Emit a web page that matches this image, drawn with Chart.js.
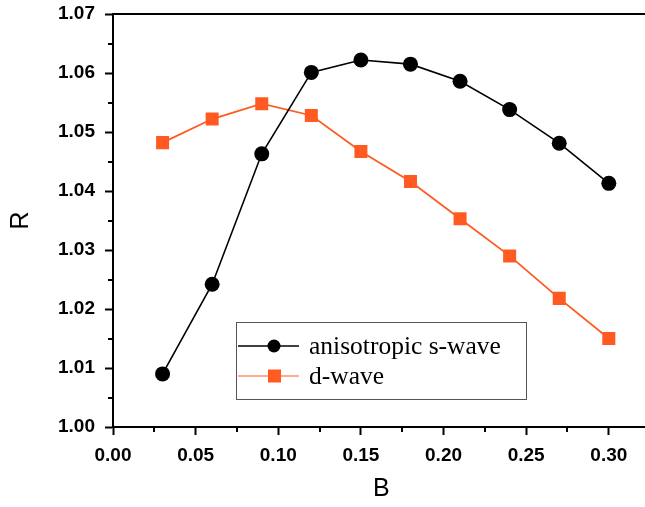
<!DOCTYPE html>
<html>
<head>
<meta charset="utf-8">
<script src="https://cdn.jsdelivr.net/npm/chart.js@4/dist/chart.umd.min.js"></script>
<style>
  html, body { margin: 0; padding: 0; background: #fff; overflow: hidden; }
  #wrap { width: 659px; height: 507px; }
</style>
</head>
<body>
<div id="wrap"><canvas id="chart"></canvas></div>
<script>
// data
const bValues = [0.03, 0.06, 0.09, 0.12, 0.15, 0.18, 0.21, 0.24, 0.27, 0.30];
const sWave = [1.0090, 1.0242, 1.0463, 1.0601, 1.0622, 1.0615, 1.0586, 1.0538, 1.0481, 1.0413];
const dWave = [1.0482, 1.0522, 1.0548, 1.0528, 1.0467, 1.0416, 1.0353, 1.0290, 1.0218, 1.0150];
const xTicks = [0.00, 0.05, 0.10, 0.15, 0.20, 0.25, 0.30];
const yTicks = [1.00, 1.01, 1.02, 1.03, 1.04, 1.05, 1.06, 1.07];
const seriesNames = ["anisotropic s-wave", "d-wave"];

const orange = "#ff5a22";
const sans = "'Liberation Sans', Arial, sans-serif";

function toPoints(ys) {
  return bValues.map((b, i) => ({ x: b, y: ys[i] }));
}

// top frame line, minor ticks and the legend box inside the plot
const extras = {
  id: "extras",
  afterDraw(chart) {
    const ctx = chart.ctx;
    const xs = chart.scales.x;
    const ys = chart.scales.y;
    const area = chart.chartArea;
    ctx.save();
    ctx.strokeStyle = "#000";
    ctx.lineWidth = 2;
    ctx.beginPath();
    ctx.moveTo(area.left - 1, area.top);
    ctx.lineTo(area.right, area.top);
    for (let v = 0.025; v < 0.33; v += 0.05) {
      const px = Math.round(xs.getPixelForValue(v));
      ctx.moveTo(px, area.bottom);
      ctx.lineTo(px, area.bottom + 5);
    }
    for (let v = 1.005; v < 1.07; v += 0.01) {
      const py = Math.round(ys.getPixelForValue(v));
      ctx.moveTo(area.left, py);
      ctx.lineTo(area.left - 5, py);
    }
    ctx.stroke();

    // legend
    const bx = 236, by = 322, bw = 290, bh = 77;
    ctx.strokeStyle = "#555";
    ctx.lineWidth = 1;
    ctx.strokeRect(bx + 0.5, by + 0.5, bw, bh);
    ctx.font = "25.5px 'Liberation Serif', 'Times New Roman', serif";
    ctx.textBaseline = "middle";
    chart.data.datasets.forEach((ds, i) => {
      const cy = by + 24 + i * 30;
      ctx.strokeStyle = ds.borderColor;
      ctx.lineWidth = i === 0 ? 1.6 : 1.2;
      ctx.beginPath();
      ctx.moveTo(bx + 2, cy);
      ctx.lineTo(bx + 63, cy);
      ctx.stroke();
      ctx.fillStyle = ds.pointBackgroundColor;
      if (ds.pointStyle === "rect") {
        ctx.fillRect(bx + 32, cy - 6.5, 13, 13);
      } else {
        ctx.beginPath();
        ctx.arc(bx + 38, cy, 6.5, 0, Math.PI * 2);
        ctx.fill();
      }
      ctx.fillStyle = "#000";
      ctx.fillText(ds.label, bx + 73, cy + 1);
    });
    ctx.restore();
  }
};

new Chart(document.getElementById("chart"), {
  type: "line",
  data: {
    datasets: [
      {
        label: seriesNames[0],
        data: toPoints(sWave),
        borderColor: "#000",
        backgroundColor: "#000",
        pointBackgroundColor: "#000",
        pointBorderWidth: 0,
        borderWidth: 1.6,
        pointStyle: "circle",
        pointRadius: 7.5,
        tension: 0
      },
      {
        label: seriesNames[1],
        data: toPoints(dWave),
        borderColor: orange,
        backgroundColor: orange,
        pointBackgroundColor: orange,
        pointBorderWidth: 0,
        borderWidth: 1.8,
        pointStyle: "rect",
        pointRadius: 9.2,
        tension: 0
      }
    ]
  },
  options: {
    responsive: true,
    maintainAspectRatio: false,
    animation: false,
    layout: { padding: { left: 0, right: 0, top: 14, bottom: 0 } },
    plugins: {
      legend: { display: false },
      tooltip: { enabled: false }
    },
    scales: {
      x: {
        type: "linear",
        min: 0,
        max: 0.3248,
        afterBuildTicks: (s) => { s.ticks = xTicks.map(v => ({ value: v })); },
        afterFit: (s) => { s.height = 80; s.paddingLeft = 0; s.paddingRight = 0; },
        grid: { drawOnChartArea: false, drawTicks: true, tickLength: 8, tickColor: "#000", tickWidth: 2 },
        border: { color: "#000", width: 2 },
        ticks: {
          color: "#000",
          padding: 9,
          font: { family: sans, size: 19, weight: "bold" },
          callback: (v) => v.toFixed(2)
        },
        title: {
          display: true,
          text: "B",
          color: "#000",
          padding: { top: 0, bottom: 3 },
          font: { family: sans, size: 25 }
        }
      },
      y: {
        min: 1.0,
        max: 1.07,
        afterBuildTicks: (s) => { s.ticks = yTicks.map(v => ({ value: v })); },
        afterFit: (s) => { s.width = 113; s.paddingTop = 0; s.paddingBottom = 0; },
        grid: { drawOnChartArea: false, drawTicks: true, tickLength: 8, tickColor: "#000", tickWidth: 2 },
        border: { color: "#000", width: 2 },
        ticks: {
          color: "#000",
          padding: 10,
          font: { family: sans, size: 19, weight: "bold" },
          callback: (v) => v.toFixed(2)
        },
        title: {
          display: true,
          text: "R",
          color: "#000",
          padding: { top: 6, bottom: 0 },
          font: { family: sans, size: 25 }
        }
      }
    }
  },
  plugins: [extras]
});
</script>
</body>
</html>
